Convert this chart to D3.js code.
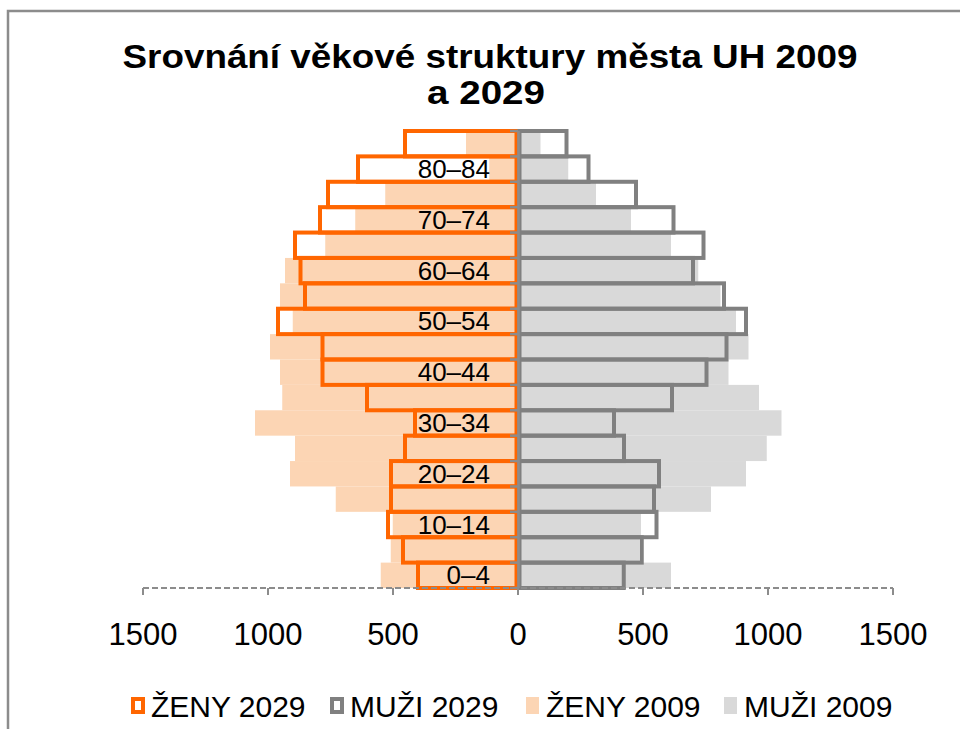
<!DOCTYPE html>
<html>
<head>
<meta charset="utf-8">
<script src="https://cdn.jsdelivr.net/npm/d3@7"></script>
<style>
  html, body { margin: 0; padding: 0; background: #fff; }
  svg { display: block; font-family: "Liberation Sans", Arial, sans-serif; }
</style>
</head>
<body>
<svg id="chart" width="960" height="729"></svg>
<script>
// Age groups, bottom (youngest) to top (oldest)
const ages = ["0–4","5–9","10–14","15–19","20–24","25–29","30–34","35–39","40–44","45–49","50–54","55–59","60–64","65–69","70–74","75–79","80–84","85+"];
const shownAgeLabels = ["0–4","10–14","20–24","30–34","40–44","50–54","60–64","70–74","80–84"];
const zeny2029 = [400, 460, 520, 508, 508, 452, 412, 604, 782, 782, 960, 852, 870, 892, 792, 760, 640, 452];
const muzi2029 = [423, 495, 554, 544, 564, 424, 384, 616, 754, 834, 912, 824, 700, 742, 622, 472, 282, 194];
const zeny2009 = [549, 509, 501, 729, 912, 892, 1052, 943, 952, 992, 901, 952, 932, 771, 651, 531, 115, 208];
const muzi2009 = [612, 485, 492, 772, 912, 995, 1054, 964, 842, 922, 872, 810, 721, 612, 452, 312, 201, 90];
const xTicks = [-1500, -1000, -500, 0, 500, 1000, 1500];
const titleLines = ["Srovnání věkové struktury města UH 2009", "a 2029"];
const legendItems = [
  { label: "ŽENY 2029", kind: "outline", color: "#FF6600" },
  { label: "MUŽI 2029", kind: "outline", color: "#808080" },
  { label: "ŽENY 2009", kind: "fill", color: "#FCD5B4" },
  { label: "MUŽI 2009", kind: "fill", color: "#D9D9D9" }
];

const svg = d3.select("#chart");

// chart frame
svg.append("rect").attr("x", 8).attr("y", 11).attr("width", 1000).attr("height", 800)
  .attr("fill", "none").attr("stroke", "#8c8c8c").attr("stroke-width", 2.5);

// title
const title = svg.append("g");
title.append("text").attr("x", 490).attr("y", 68).attr("text-anchor", "middle")
  .attr("font-size", 34).attr("font-weight", "bold").attr("textLength", 735).attr("lengthAdjust", "spacingAndGlyphs")
  .text(titleLines[0]);
title.append("text").attr("x", 486).attr("y", 104).attr("text-anchor", "middle")
  .attr("font-size", 34).attr("font-weight", "bold").attr("textLength", 118).attr("lengthAdjust", "spacingAndGlyphs")
  .text(titleLines[1]);

const x = d3.scaleLinear().domain([-1500, 1500]).range([143, 893]);
const y = d3.scaleBand().domain(ages).range([588, 131]).padding(0);

const rows = ages.map((a, i) => ({ age: a, z29: zeny2029[i], m29: muzi2029[i], z09: zeny2009[i], m09: muzi2009[i] }));

// 2009 filled bars
svg.append("g").selectAll("rect").data(rows).join("rect")
  .attr("x", d => x(-d.z09)).attr("y", d => y(d.age))
  .attr("width", d => x(0) - x(-d.z09)).attr("height", y.bandwidth())
  .attr("fill", "#FCD5B4");
svg.append("g").selectAll("rect").data(rows).join("rect")
  .attr("x", x(0)).attr("y", d => y(d.age))
  .attr("width", d => x(d.m09) - x(0)).attr("height", y.bandwidth())
  .attr("fill", "#D9D9D9");

// 2029 outlined bars
svg.append("g").selectAll("rect").data(rows).join("rect")
  .attr("x", d => x(-d.z29)).attr("y", d => y(d.age))
  .attr("width", d => x(0) - x(-d.z29) - 1.5).attr("height", y.bandwidth())
  .attr("fill", "none").attr("stroke", "#FF6600").attr("stroke-width", 4);
svg.append("g").selectAll("rect").data(rows).join("rect")
  .attr("x", x(0) + 1.5).attr("y", d => y(d.age))
  .attr("width", d => x(d.m29) - x(0) - 1.5).attr("height", y.bandwidth())
  .attr("fill", "none").attr("stroke", "#808080").attr("stroke-width", 4);

// vertical category axis
const yAxisG = svg.append("g");
yAxisG.append("line").attr("x1", x(0) + 0.5).attr("x2", x(0) + 0.5)
  .attr("y1", 131).attr("y2", 588).attr("stroke", "#8c8c8c").attr("stroke-width", 2.5);
const boundaries = ages.map(a => y(a)).concat([588]);
yAxisG.selectAll("line.tk").data(boundaries).join("line").attr("class", "tk")
  .attr("x1", x(0) - 8).attr("x2", x(0)).attr("y1", d => d).attr("y2", d => d)
  .attr("stroke", "#8c8c8c").attr("stroke-width", 2.5);

// age labels
svg.append("g").selectAll("text").data(shownAgeLabels).join("text")
  .attr("x", 490).attr("y", d => y(d) + y.bandwidth() / 2 + 9)
  .attr("text-anchor", "end").attr("font-size", 26).attr("fill", "#000")
  .text(d => d);

// horizontal value axis (dashed)
const xAxisG = svg.append("g");
xAxisG.append("line").attr("x1", x(-1500)).attr("x2", x(1500)).attr("y1", 588).attr("y2", 588)
  .attr("stroke", "#8c8c8c").attr("stroke-width", 2).attr("stroke-dasharray", "6,3");
xAxisG.selectAll("line.tk").data(xTicks).join("line").attr("class", "tk")
  .attr("x1", d => x(d)).attr("x2", d => x(d)).attr("y1", 588).attr("y2", 595)
  .attr("stroke", "#8c8c8c").attr("stroke-width", 2);
xAxisG.selectAll("text").data(xTicks).join("text")
  .attr("x", d => x(d)).attr("y", 645).attr("text-anchor", "middle")
  .attr("font-size", 31).attr("fill", "#000")
  .text(d => Math.abs(d));

// legend
const legendX = [131, 330, 526, 724];
const lg = svg.append("g");
legendItems.forEach((it, i) => {
  const g = lg.append("g").attr("transform", `translate(${legendX[i]},0)`);
  if (it.kind === "outline") {
    g.append("rect").attr("x", 2).attr("y", 699).attr("width", 10).attr("height", 13)
      .attr("fill", "none").attr("stroke", it.color).attr("stroke-width", 4);
  } else {
    g.append("rect").attr("x", 0).attr("y", 697).attr("width", 13).attr("height", 17)
      .attr("fill", it.color);
  }
  g.append("text").attr("x", 20).attr("y", 717).attr("font-size", 30).attr("fill", "#000")
    .text(it.label);
});
</script>
</body>
</html>
